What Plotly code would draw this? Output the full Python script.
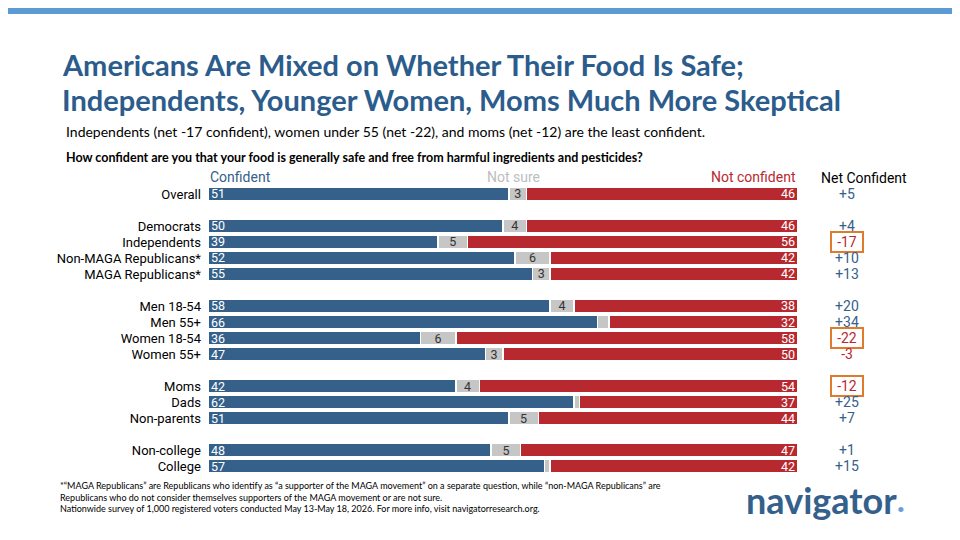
import plotly.graph_objects as go

groups = [
    ["Overall"],
    ["Democrats", "Independents", "Non-MAGA Republicans*", "MAGA Republicans*"],
    ["Men 18-54", "Men 55+", "Women 18-54", "Women 55+"],
    ["Moms", "Dads", "Non-parents"],
    ["Non-college", "College"],
]
confident = [51, 50, 39, 52, 55, 58, 66, 36, 47, 42, 62, 51, 48, 57]
not_sure = [3, 4, 5, 6, 3, 4, 2, 6, 3, 4, 1, 5, 5, 1]
not_confident = [46, 46, 56, 42, 42, 38, 32, 58, 50, 54, 37, 44, 47, 42]
net = ["+5", "+4", "-17", "+10", "+13", "+20", "+34", "-22", "-3", "-12", "+25", "+7", "+1", "+15"]
highlight = ["Independents", "Women 18-54", "Moms"]

BLUE = "#35608a"
RED = "#b8292f"
GREY = "#c6c6c6"
FONT = "Roboto"

# build category list with blank spacer rows between groups
cats = []
for i, g in enumerate(groups):
    if i > 0:
        cats.append(" " * i)
    cats.extend(g)
labels = [c for g in groups for c in g]

fig = go.Figure()
line = dict(color="white", width=1.5)
common = dict(orientation="h", textposition="inside", textangle=0, constraintext="none",
              cliponaxis=False, width=0.8)
fig.add_trace(go.Bar(
    y=labels, x=confident, marker=dict(color=BLUE, line=line),
    text=[str(v) for v in confident], insidetextanchor="start",
    textfont=dict(color="white", size=12.5, family=FONT), **common))
fig.add_trace(go.Bar(
    y=labels, x=not_sure, marker=dict(color=GREY, line=line),
    text=[str(v) if v > 2 else "" for v in not_sure],
    insidetextanchor="middle", textfont=dict(color="#333", size=12.5, family=FONT), **common))
fig.add_trace(go.Bar(
    y=labels, x=not_confident, marker=dict(color=RED, line=line),
    text=[str(v) for v in not_confident], insidetextanchor="end",
    textfont=dict(color="white", size=12.5, family=FONT), **common))

DX = -8 / 960
DY = 8 / 540

for lab, n in zip(labels, net):
    neg = n.startswith("-")
    fig.add_annotation(
        x=0.9 + DX, xref="paper", y=lab, yref="y", text=n, showarrow=False,
        font=dict(family=FONT, size=14, color=RED if neg else BLUE),
        bordercolor="#e07b2e" if lab in highlight else "rgba(0,0,0,0)",
        borderwidth=2, borderpad=1, width=28)

top_ann = [
    (0.062, 0.88, "<b>Americans Are Mixed on Whether Their Food Is Safe;</b>", 29, "#2b5c8c", "left", "Lato"),
    (0.062, 0.815, "<b>Independents, Younger Women, Moms Much More Skeptical</b>", 29, "#2b5c8c", "left", "Lato"),
    (0.0667, 0.757, "Independents (net -17 confident), women under 55 (net -22), and moms (net -12) are the least confident.", 14, "black", "left", "Lato"),
    (0.0667, 0.709, "<b>How confident are you that your food is generally safe and free from harmful ingredients and pesticides?</b>", 12.5, "black", "left", "Lato"),
    (0.2167, 0.672, "Confident", 14, BLUE, "left", FONT),
    (0.535, 0.672, "Not sure", 14, "#bdbdbd", "center", FONT),
    (0.831, 0.672, "Not confident", 14, RED, "right", FONT),
    (0.9, 0.67, "Net Confident", 14, "black", "center", FONT),
]
for x, y, t, s, c, a, f in top_ann:
    fig.add_annotation(x=x + DX, y=y + DY, xref="paper", yref="paper", text=t, showarrow=False,
                       xanchor=a, yanchor="middle", font=dict(size=s, color=c, family=f))

fig.add_annotation(
    x=0.06 + DX, y=0.045 + DY, xref="paper", yref="paper", xanchor="left", yanchor="bottom", align="left",
    showarrow=False, font=dict(size=9, color="black", family="Lato"),
    text="*\u201cMAGA Republicans\u201d are Republicans who identify as \u201ca supporter of the MAGA movement\u201d on a separate question, while \u201cnon-MAGA Republicans\u201d are<br>"
         "Republicans who do not consider themselves supporters of the MAGA movement or are not sure.<br>"
         "Nationwide survey of 1,000 registered voters conducted May 13-May 18, 2026. For more info, visit navigatorresearch.org.")
fig.add_annotation(
    x=0.945 + DX, y=0.075 + DY, xref="paper", yref="paper", xanchor="right", yanchor="middle", showarrow=False,
    text="<b>navigator</b><span style='color:#6aa0d8;font-size:14px'>\u2022</span>",
    font=dict(size=36, color="#34608c", family="Lato"))

fig.add_shape(type="rect", xref="paper", yref="paper", x0=0, x1=1, y0=0.974 + DY, y1=1,
              fillcolor="#5b9bd1", line_width=0)

fig.update_layout(
    width=960, height=540, barmode="stack", showlegend=False,
    plot_bgcolor="white", paper_bgcolor="white",
    margin=dict(l=0, r=0, t=0, b=0), bargap=0.2,
    xaxis=dict(domain=[0.2083, 0.8229], range=[0, 100], visible=False, fixedrange=True),
    yaxis=dict(domain=[0.137, 0.6704], categoryorder="array", categoryarray=cats[::-1],
               type="category", range=[-0.5, len(cats) - 0.5],
               tickmode="array", tickvals=labels, ticktext=labels,
               showgrid=False, ticks="", ticklabelstandoff=6,
               tickfont=dict(family=FONT, size=13, color="black")),
)

fig.write_html("out.html")
